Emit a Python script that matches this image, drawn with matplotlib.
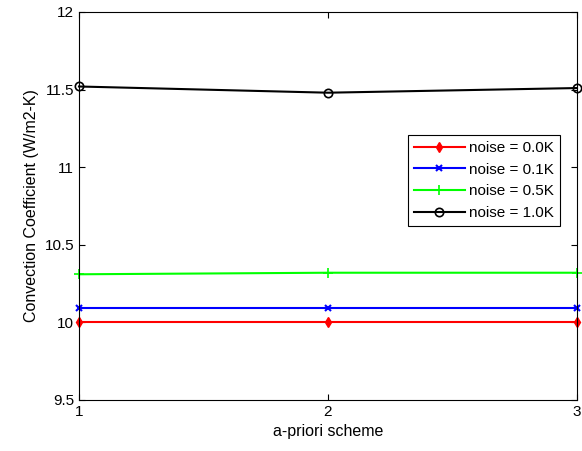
import matplotlib
matplotlib.use("Agg")
import matplotlib.pyplot as plt

plt.rcParams['font.family'] = ['Liberation Sans', 'DejaVu Sans']

schemes = [1, 2, 3]
noise_00 = [10.0, 10.0, 10.0]
noise_01 = [10.09, 10.09, 10.09]
noise_05 = [10.31, 10.32, 10.32]
noise_10 = [11.52, 11.48, 11.51]
labels = ['noise = 0.0K', 'noise = 0.1K', 'noise = 0.5K', 'noise = 1.0K']
xticks = [1, 2, 3]
yticks = [9.5, 10, 10.5, 11, 11.5, 12]
ytick_labels = ['9.5', '10', '10.5', '11', '11.5', '12']

fig = plt.figure(figsize=(5.82, 4.51), dpi=100)
ax = fig.add_axes([0.1357, 0.1131, 0.8557, 0.8603])

ax.plot(schemes, noise_00, color='#ff0000', marker='d', markersize=5, lw=1.5, label=labels[0], clip_on=False)
ax.plot(schemes, noise_01, color='#0000ff', marker='x', markersize=4, mew=1.5, lw=1.5, label=labels[1], clip_on=False)
ax.plot(schemes, noise_05, color='#00ff00', marker='+', markersize=7, mew=1.2, lw=1.5, label=labels[2], clip_on=False)
ax.plot(schemes, noise_10, color='black', marker='o', markersize=6, mfc='none', mew=1.2, lw=1.5, label=labels[3], clip_on=False)

ax.set_xlim(1, 3)
ax.set_ylim(9.5, 12)
ax.set_xticks(xticks)
ax.set_xticklabels([str(x) for x in xticks])
ax.set_yticks(yticks)
ax.set_yticklabels(ytick_labels)
ax.tick_params(direction='in', top=True, right=True, labelsize=11, length=4)
for s in ax.spines.values():
    s.set_linewidth(0.8)

ax.set_xlabel('a-priori scheme', fontsize=11.5)
ax.set_ylabel('Convection Coefficient (W/m2-K)', fontsize=11.5)

leg = ax.legend(loc='upper left', bbox_to_anchor=(0.661, 0.683), fontsize=11,
                fancybox=False, framealpha=1, edgecolor='black',
                handlelength=3.3, borderpad=0.4, labelspacing=0.5, handletextpad=0.3,
                borderaxespad=0)
leg.get_frame().set_linewidth(0.8)

fig.savefig('out.png', dpi=100)
